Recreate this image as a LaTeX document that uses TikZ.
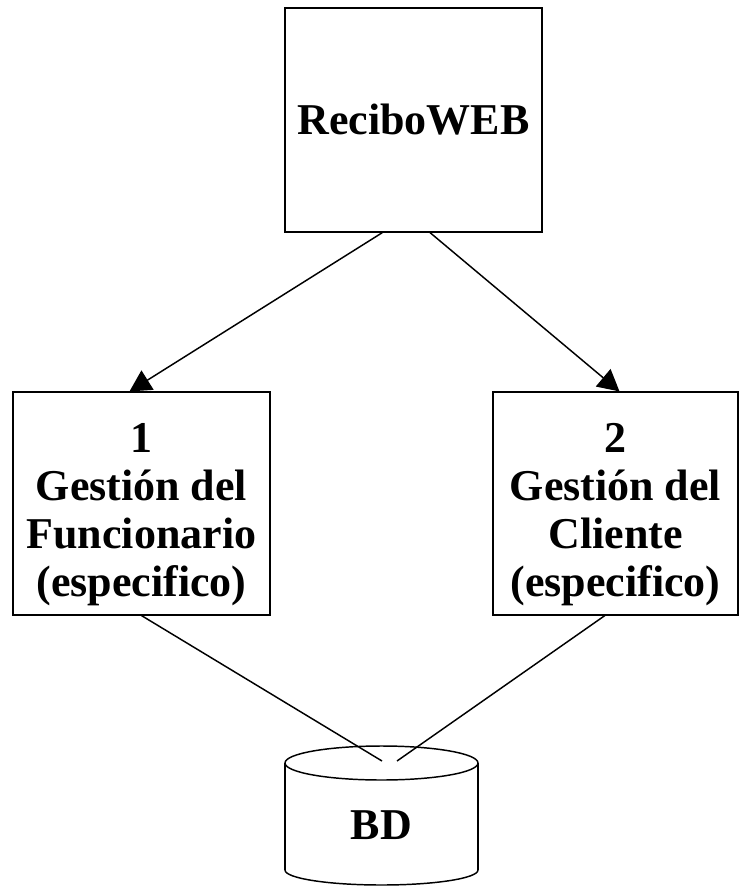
\documentclass[tikz,border=0pt]{standalone}
\usepackage{fontspec}
\setmainfont{Liberation Serif}
\usetikzlibrary{arrows.meta}
\begin{document}
\begin{tikzpicture}[x=0.75pt, y=-0.75pt, line width=1.1pt,
    box/.style={draw, line width=1.1pt, inner sep=0pt, align=center,
        font=\fontsize{33}{36}\selectfont\bfseries},
    flecha/.style={-{Triangle[length=16pt,width=17pt]}}]

                    \useasboundingbox (0,0) rectangle (740,887);

                    \node[box, minimum width=192.75pt, minimum height=168pt] (recibo) at (413.5,120) {ReciboWEB};
                    \node[box, minimum width=193pt, minimum height=167pt] (func) at (141.5,503.5) {\rule{0pt}{38pt}1\\Gestión del\\Funcionario\\(especifico)};
                    \node[box, minimum width=183.5pt, minimum height=167pt] (cliente) at (615.5,503.5) {\rule{0pt}{38pt}2\\Gestión del\\Cliente\\(especifico)};

                    \draw[flecha] ([xshift=-23.5pt]recibo.south) -- ([xshift=-9pt]func.north);
                    \draw[flecha] ([xshift=12.5pt]recibo.south) -- ([xshift=3pt]cliente.north);

                    % base de datos
                    \draw (478,763) arc (0:180:96.5 and 17);
                    \draw (478,763) arc (0:-180:96.5 and 17);
                    \draw (478,763) -- (478,870);
                    \draw (285,763) -- (285,870);
                    \draw (478,870) arc (0:180:96.5 and 15);
                    \node[font=\fontsize{33}{36}\selectfont\bfseries] (bd) at (381.5,825) {BD};

                    \coordinate (bdizq) at (382,761);
                    \coordinate (bdder) at (397,761);
                    \draw (func.south) -- (bdizq);
                    \draw ([xshift=-8pt]cliente.south) -- (bdder);
                \end{tikzpicture}
\end{document}
